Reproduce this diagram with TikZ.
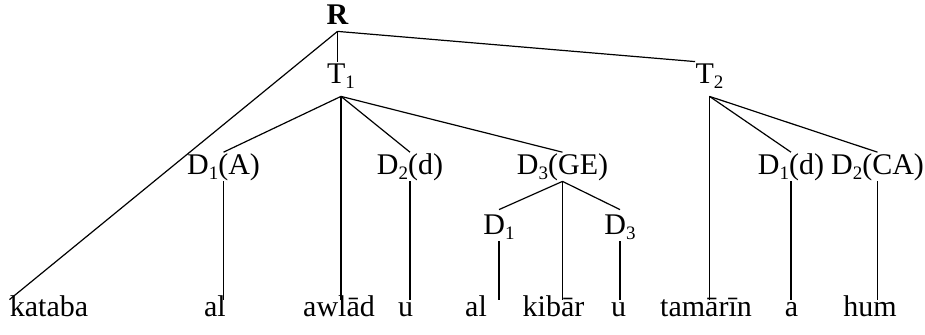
\documentclass[tikz,border=0pt]{standalone}
\usepackage{fontspec}
\setmainfont{Liberation Serif}
\usepackage{tikz}
\newcommand{\lowsub}[1]{\raisebox{-0.35ex}{\fontsize{9.5}{9.5}\selectfont #1}}

\begin{document}
\begin{tikzpicture}[
        x=0.5pt,y=-0.5pt,
        lbl/.style={inner sep=0pt,anchor=base,font=\fontsize{15}{18}\selectfont,text height=11.2pt,text depth=3pt},
        tnode/.style={lbl,text height=11pt,text depth=6pt},
        word/.style={lbl,text height=8.5pt},
        br/.style={line width=0.6pt}
      ]
        \useasboundingbox (0,0) rectangle (925,335);
        \node[lbl,text height=10pt] (r) at (337.5,25) {\textbf{R}};
        \node[tnode] (t1) at (341,84) {T\lowsub{1}};
        \node[tnode] (t2) at (709.5,84) {T\lowsub{2}};
        \node[lbl] (d1a) at (223.5,175) {D\lowsub{1}(A)};
        \node[lbl] (d2d) at (410,175) {D\lowsub{2}(d)};
        \node[lbl] (d3ge) at (562.5,175) {D\lowsub{3}(GE)};
        \node[lbl] (d1d) at (791,175) {D\lowsub{1}(d)};
        \node[lbl] (d2ca) at (877.5,175) {D\lowsub{2}(CA)};
        \node[lbl,text height=12.5pt] (d1s) at (499,235) {D\lowsub{1}};
        \node[lbl,text height=12.5pt] (d3s) at (620,235) {D\lowsub{3}};
        \node[word] (kataba) at (49,317) {kataba};
        \node[word] (al) at (215,317) {al};
        \node[word] (awlad) at (339,317) {awlād};
        \node[word] (u) at (405.5,317) {u};
        \node[word] (al2) at (476,317) {al};
        \node[word] (kibar) at (553.5,317) {kibār};
        \node[word] (u2) at (618.5,317) {u};
        \node[word] (tamarin) at (706,317) {tamārīn};
        \node[word] (a) at (791.5,317) {a};
        \node[word] (hum) at (870,317) {hum};
        \draw[br] (r.south)--(kataba.north west);
        \draw[br] (r.south)--(r.south |- t1.north); \draw[br] (r.south)--(t2.north west);
        \draw[br] (t1.south)--(d1a.north); \draw[br] (t1.south)--(awlad.north -| t1.south);
        \draw[br] (t1.south)--(d2d.north); \draw[br] (t1.south)--(d3ge.north);
        \draw[br] (d1a.south)--(al.north -| d1a.south);
        \draw[br] (d2d.south)--(u.north -| d2d.south);
        \draw[br] (d3ge.south)--(d1s.north); \draw[br] (d3ge.south)--(kibar.north -| d3ge.south);
        \draw[br] (d3ge.south)--(d3s.north);
        \draw[br] (d1s.south)--(al2.north -| d1s.south);
        \draw[br] (d3s.south)--(u2.north -| d3s.south);
        \draw[br] (t2.south)--(tamarin.north -| t2.south);
        \draw[br] (t2.south)--(d1d.north); \draw[br] (t2.south)--(d2ca.north);
        \draw[br] (d1d.south)--(a.north -| d1d.south);
        \draw[br] (d2ca.south)--(hum.north -| d2ca.south);
      \end{tikzpicture}
\end{document}
